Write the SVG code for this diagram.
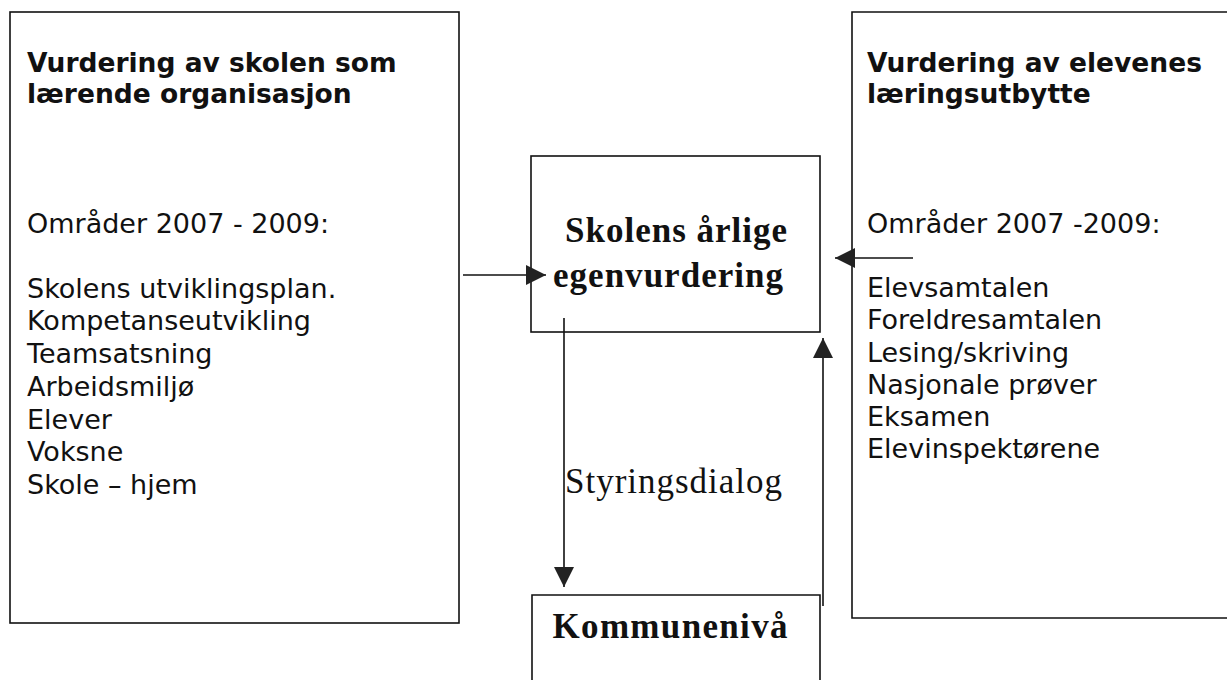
<svg xmlns="http://www.w3.org/2000/svg" width="1227" height="680" viewBox="0 0 1227 680">
<style>
.box{fill:none;stroke:#111;stroke-width:1.6}
.h{font-family:"DejaVu Sans",Verdana,sans-serif;font-weight:bold;font-size:26.5px;fill:#111}
.t{font-family:"DejaVu Sans",Verdana,sans-serif;font-size:27px;fill:#111}
.sb{font-family:"Liberation Serif","Times New Roman",serif;font-weight:bold;font-size:35px;fill:#111}
.sr{font-family:"Liberation Serif","Times New Roman",serif;font-size:35px;fill:#111}
.c{fill:none;stroke:#111;stroke-width:1.6}
</style>
<defs>
<marker id="ah" viewBox="0 0 10 10" refX="10" refY="5" markerWidth="26" markerHeight="20" markerUnits="userSpaceOnUse" orient="auto">
<path d="M0,0 L10,5 L0,10 Z" fill="#222"/>
</marker>
</defs>
<rect width="1227" height="680" fill="#fff"/>
<g id="left-box">
<rect class="box" x="10" y="12" width="449" height="611"/>
<text class="h" x="27" y="72">Vurdering av skolen som</text>
<text class="h" x="27" y="103">lærende organisasjon</text>
<text class="t" x="27" y="233">Områder 2007 - 2009:</text>
<text class="t" x="27" y="298">Skolens utviklingsplan.</text>
<text class="t" x="27" y="330">Kompetanseutvikling</text>
<text class="t" x="27" y="363">Teamsatsning</text>
<text class="t" x="27" y="396">Arbeidsmiljø</text>
<text class="t" x="27" y="429">Elever</text>
<text class="t" x="27" y="461">Voksne</text>
<text class="t" x="27" y="494">Skole – hjem</text>
</g>
<g id="center-box">
<rect class="box" x="531" y="156" width="289" height="176"/>
<text class="sb" x="676" y="242" text-anchor="middle" textLength="222">Skolens årlige</text>
<text class="sb" x="668" y="287" text-anchor="middle" textLength="230">egenvurdering</text>
</g>
<g id="kommune-box">
<path class="box" d="M532,682 V595 H820 V682"/>
<text class="sb" x="670" y="638" text-anchor="middle" textLength="235">Kommunenivå</text>
</g>
<g id="right-box">
<path class="box" d="M1230,12 H852 V618 H1230"/>
<text class="h" x="867" y="72">Vurdering av elevenes</text>
<text class="h" x="867" y="103">læringsutbytte</text>
<text class="t" x="867" y="233">Områder 2007 -2009:</text>
<text class="t" x="867" y="297">Elevsamtalen</text>
<text class="t" x="867" y="329">Foreldresamtalen</text>
<text class="t" x="867" y="362">Lesing/skriving</text>
<text class="t" x="867" y="394">Nasjonale prøver</text>
<text class="t" x="867" y="426">Eksamen</text>
<text class="t" x="867" y="458">Elevinspektørene</text>
</g>
<g id="connectors">
<line class="c" x1="463" y1="275" x2="546" y2="275" marker-end="url(#ah)"/>
<line class="c" x1="913" y1="258" x2="835" y2="258" marker-end="url(#ah)"/>
<line class="c" x1="564" y1="318" x2="564" y2="587" marker-end="url(#ah)"/>
<line class="c" x1="823" y1="606" x2="823" y2="338" marker-end="url(#ah)"/>
<text class="sr" x="565" y="493" textLength="217">Styringsdialog</text>
</g>
</svg>
